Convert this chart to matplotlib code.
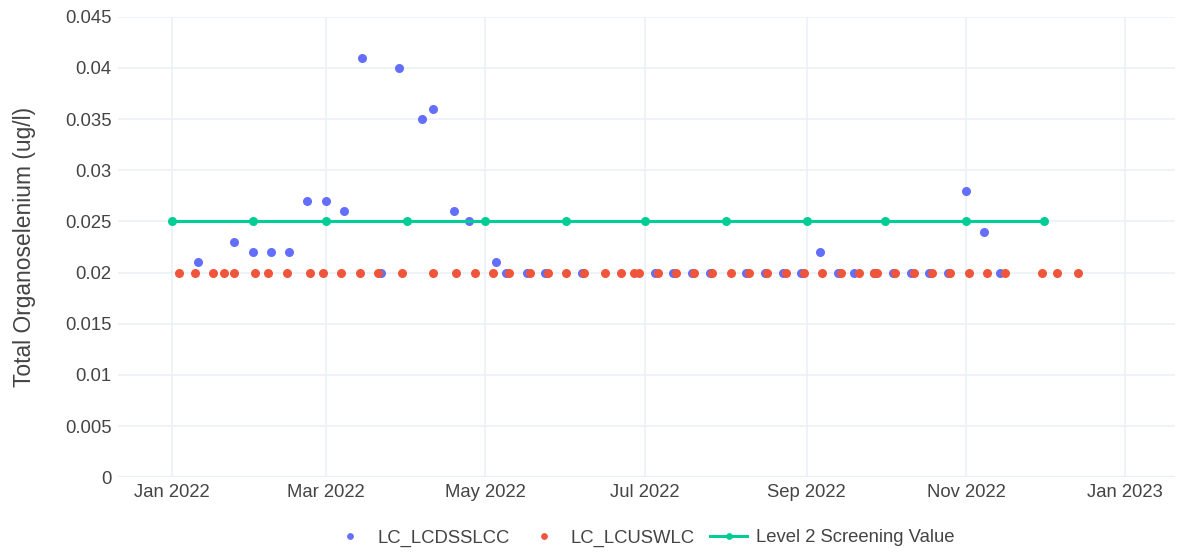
import matplotlib.pyplot as plt
import matplotlib.dates as mdates
import pandas as pd

plt.rcParams['font.family'] = ['Liberation Sans', 'DejaVu Sans']

# LC_LCDSSLCC samples
dss_dates = ["2022-01-11", "2022-01-25", "2022-02-01", "2022-02-08", "2022-02-15",
             "2022-02-22", "2022-03-01", "2022-03-08", "2022-03-15", "2022-03-22",
             "2022-03-29", "2022-04-07", "2022-04-11", "2022-04-19", "2022-04-25",
             "2022-05-05", "2022-05-09", "2022-05-17", "2022-05-24", "2022-06-07",
             "2022-07-05", "2022-07-12", "2022-07-19", "2022-07-26", "2022-08-09",
             "2022-08-16", "2022-08-23", "2022-08-30", "2022-09-06", "2022-09-13",
             "2022-09-19", "2022-09-27", "2022-10-04", "2022-10-11", "2022-10-18",
             "2022-10-25", "2022-11-01", "2022-11-08", "2022-11-14"]
dss_values = [0.021, 0.023, 0.022, 0.022, 0.022,
              0.027, 0.027, 0.026, 0.041, 0.020,
              0.040, 0.035, 0.036, 0.026, 0.025,
              0.021, 0.020, 0.020, 0.020, 0.020,
              0.020, 0.020, 0.020, 0.020, 0.020,
              0.020, 0.020, 0.020, 0.022, 0.020,
              0.020, 0.020, 0.020, 0.020, 0.020,
              0.020, 0.028, 0.024, 0.020]

# LC_LCUSWLC samples (all at 0.02)
usw_dates = ["2022-01-04", "2022-01-10", "2022-01-17", "2022-01-21", "2022-01-25",
             "2022-02-02", "2022-02-07", "2022-02-14", "2022-02-23", "2022-02-28",
             "2022-03-07", "2022-03-14", "2022-03-21", "2022-03-30", "2022-04-11",
             "2022-04-20", "2022-04-27", "2022-05-04", "2022-05-10", "2022-05-18",
             "2022-05-25", "2022-06-01", "2022-06-08", "2022-06-16", "2022-06-22",
             "2022-06-27", "2022-06-29", "2022-07-06", "2022-07-13", "2022-07-20",
             "2022-07-27", "2022-08-03", "2022-08-10", "2022-08-17", "2022-08-24",
             "2022-08-31", "2022-09-07", "2022-09-14", "2022-09-21", "2022-09-27",
             "2022-09-28", "2022-10-05", "2022-10-12", "2022-10-19", "2022-10-26",
             "2022-11-02", "2022-11-09", "2022-11-16", "2022-11-30", "2022-12-06",
             "2022-12-14"]
usw_values = [0.02] * len(usw_dates)

# Level 2 screening value, first of each month
screen_dates = ["2022-%02d-01" % m for m in range(1, 13)]
screen_values = [0.025] * len(screen_dates)

y_ticks = [0, 0.005, 0.01, 0.015, 0.02, 0.025, 0.03, 0.035, 0.04, 0.045]
y_labels = ["0", "0.005", "0.01", "0.015", "0.02", "0.025", "0.03", "0.035", "0.04", "0.045"]

dss_dates = pd.to_datetime(dss_dates)
usw_dates = pd.to_datetime(usw_dates)
screen_dates = pd.to_datetime(screen_dates)

W, H = 1178, 552
fig = plt.figure(figsize=(W / 100, H / 100), dpi=100)
ax = fig.add_axes([118 / W, (H - 477.3) / H, (1175 - 118) / W, (477.3 - 16.5) / H])

grid_col = '#ebf0f8'
ax.set_facecolor('white')
for s in ax.spines.values():
    s.set_visible(False)

ax.plot(dss_dates, dss_values, 'o', color='#636efa', markersize=6.5,
        markeredgewidth=0, label='LC_LCDSSLCC', zorder=3)
ax.plot(usw_dates, usw_values, 'o', color='#EF553B', markersize=6.5,
        markeredgewidth=0, label='LC_LCUSWLC', zorder=4)
ax.plot(screen_dates, screen_values, '-o', color='#00cc96', linewidth=2.2,
        markersize=6.5, markeredgewidth=0, label='Level 2 Screening Value', zorder=5)

ax.set_xlim(pd.Timestamp("2021-12-11 12:00"), pd.Timestamp("2023-01-20"))
ax.set_ylim(0, 0.04502)

ax.xaxis.set_major_locator(mdates.MonthLocator(bymonth=[1, 3, 5, 7, 9, 11]))
ax.xaxis.set_major_formatter(mdates.DateFormatter('%b %Y'))
ax.set_yticks(y_ticks)
ax.set_yticklabels(y_labels)

ax.grid(True, color=grid_col, linewidth=1.2, zorder=0)
ax.axhline(0, color=grid_col, linewidth=2.5, zorder=1)
ax.set_axisbelow(True)
ax.tick_params(axis='both', length=0, labelsize=13.3, colors='#444444')
ax.tick_params(axis='x', pad=5)
ax.tick_params(axis='y', pad=4.5)

ax.set_ylabel('Total Organoselenium (ug/l)', fontsize=16.4, color='#444444')
ax.yaxis.set_label_coords((36 - 118) / (1175 - 118), 0.5)

fig.legend(loc='center', bbox_to_anchor=(643 / W, 1 - 538 / H), ncol=3,
           frameon=False, fontsize=13.3, handlelength=2.0, handletextpad=0.45,
           columnspacing=0.85, markerscale=0.75, labelcolor='#444444')

fig.savefig('out.png', dpi=100)
